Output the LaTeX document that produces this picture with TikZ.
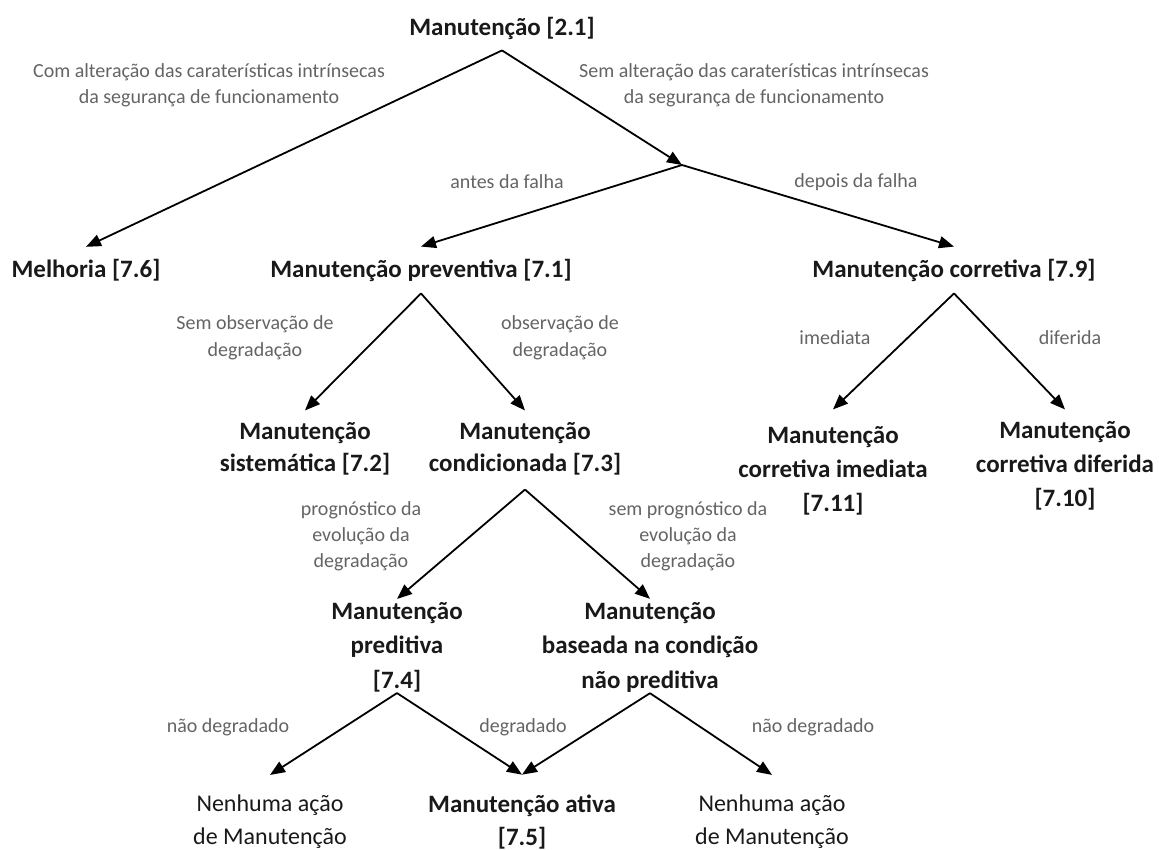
\documentclass[tikz,border=0pt]{standalone}
\usepackage{fontspec}
\setmainfont{Carlito}
\usetikzlibrary{arrows.meta}
\definecolor{txtdark}{RGB}{25,25,25}
\definecolor{lblgray}{RGB}{100,100,100}

\begin{document}
\begin{tikzpicture}[x=1pt,y=-1pt]
                        \tikzstyle{titulo}=[font=\bfseries\fontsize{25}{32}\selectfont, text=txtdark, align=center, inner sep=0pt]
                        \tikzstyle{acao}=[font=\fontsize{24}{33}\selectfont, text=txtdark, align=center, inner sep=0pt]
                        \tikzstyle{rotulo}=[font=\fontsize{20}{26}\selectfont, text=lblgray, align=center, inner sep=0pt]
                        \tikzstyle{seta}=[-{Triangle[length=15pt,width=12pt]}, line width=1.8pt, black]
                        \useasboundingbox (0,0) rectangle (1159,850);

                        \node[titulo] (manut) at (502,28) {Manutenção [2.1]};
                        \coordinate (juncao) at (682,165);
                        \node[titulo] (melhoria) at (86,270) {Melhoria [7.6]};
                        \node[titulo] (prev) at (421,270) {Manutenção preventiva [7.1]};
                        \node[titulo] (corr) at (954,270) {Manutenção corretiva [7.9]};
                        \node[titulo] (sist) at (305,449) {Manutenção\\sistemática [7.2]};
                        \node[titulo] (cond) at (525,449) {Manutenção\\condicionada [7.3]};
                        \node[titulo, font=\bfseries\fontsize{25}{34}\selectfont] (imed) at (833,471) {Manutenção\\corretiva imediata\\{[7.11]}};
                        \node[titulo, font=\bfseries\fontsize{25}{34}\selectfont] (dife) at (1065,466) {Manutenção\\corretiva diferida\\{[7.10]}};
                        \node[titulo, font=\bfseries\fontsize{25}{34.5}\selectfont] (pred) at (397,647) {Manutenção\\preditiva\\{[7.4]}};
                        \node[titulo, font=\bfseries\fontsize{25}{34.5}\selectfont] (base) at (650,647) {Manutenção\\baseada na condição\\não preditiva};
                        \node[acao] (nenhumaA) at (270,822) {Nenhuma ação\\de Manutenção};
                        \node[titulo, font=\bfseries\fontsize{25}{33}\selectfont] (ativa) at (522,822) {Manutenção ativa\\{[7.5]}};
                        \node[acao] (nenhumaB) at (772,822) {Nenhuma ação\\de Manutenção};

                        \node[rotulo] (lcom) at (209,85) {Com alteração das caraterísticas intrínsecas\\da segurança de funcionamento};
                        \node[rotulo] (lsem) at (754,85) {Sem alteração das caraterísticas intrínsecas\\da segurança de funcionamento};
                        \node[rotulo] (lantes) at (507,182) {antes da falha};
                        \node[rotulo] (ldepois) at (856,182) {depois da falha};
                        \node[rotulo, font=\fontsize{20}{27}\selectfont] (lsemobs) at (255,338) {Sem observação de\\degradação};
                        \node[rotulo, font=\fontsize{20}{27}\selectfont] (lobs) at (560,338) {observação de\\degradação};
                        \node[rotulo] (limed) at (835,338) {imediata};
                        \node[rotulo] (ldife) at (1070,338) {diferida};
                        \node[rotulo] (lprog) at (361,536) {prognóstico da\\evolução da\\degradação};
                        \node[rotulo] (lsemprog) at (688,536) {sem prognóstico da\\evolução da\\degradação};
                        \node[rotulo] (lnaoA) at (228,727) {não degradado};
                        \node[rotulo] (ldeg) at (523,727) {degradado};
                        \node[rotulo] (lnaoB) at (813,727) {não degradado};

                        \draw[seta] ([yshift=-11pt]manut.south) -- ([yshift=12pt]melhoria.north);
                        \draw[seta] ([yshift=-11pt]manut.south) -- (juncao);
                        \draw[seta] (juncao) -- ([yshift=12pt]prev.north);
                        \draw[seta] (juncao) -- ([yshift=12pt]corr.north);
                        \draw[seta] ([yshift=-12pt]prev.south) -- ([yshift=12pt]sist.north);
                        \draw[seta] ([yshift=-12pt]prev.south) -- ([yshift=12pt]cond.north);
                        \draw[seta] ([yshift=-12pt]corr.south) -- ([yshift=17pt]imed.north);
                        \draw[seta] ([yshift=-12pt]corr.south) -- ([yshift=12pt]dife.north);
                        \draw[seta] ([yshift=-14pt]cond.south) -- ([yshift=3pt]pred.north);
                        \draw[seta] ([yshift=-14pt]cond.south) -- ([yshift=3pt]base.north);
                        \draw[seta] ([yshift=-1pt]pred.south) -- ([yshift=20pt]nenhumaA.north);
                        \draw[seta] ([yshift=-1pt]pred.south) -- ([yshift=20pt]ativa.north);
                        \draw[seta] ([yshift=-1pt]base.south) -- ([yshift=20pt]ativa.north);
                        \draw[seta] ([yshift=-1pt]base.south) -- ([yshift=20pt]nenhumaB.north);
                    \end{tikzpicture}
\end{document}
